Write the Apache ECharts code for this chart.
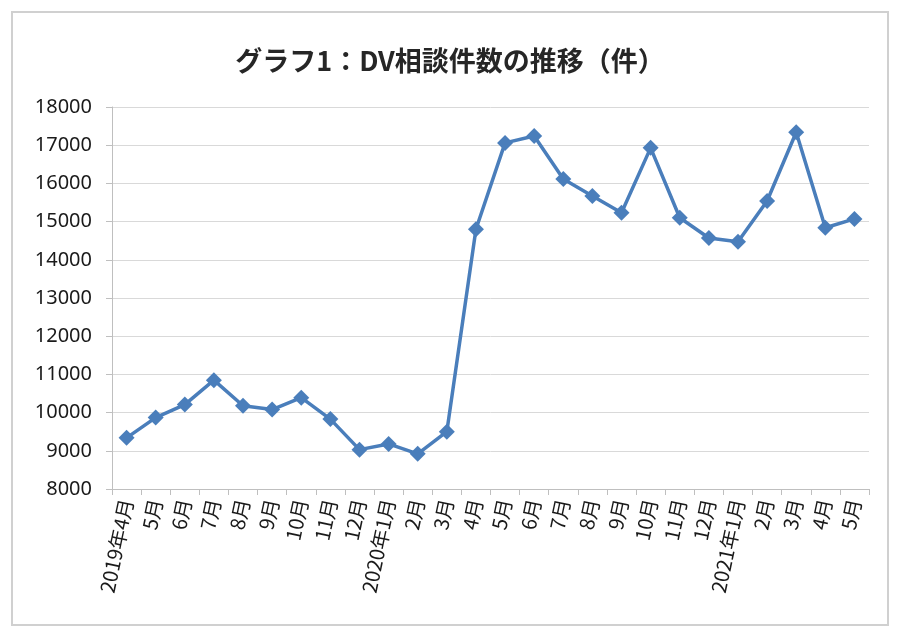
<!DOCTYPE html>
<html>
<head>
<meta charset="utf-8">
<script src="https://cdn.jsdelivr.net/npm/echarts@6/dist/echarts.min.js"></script>
<style>
html,body{margin:0;padding:0;background:#fff;}
#frame{position:absolute;left:11px;top:11px;width:878px;height:615px;border:2px solid #d0d0d0;box-sizing:border-box;}
#chart{position:absolute;left:0;top:0;width:900px;height:636px;}
</style>
</head>
<body>
<div id="frame"></div>
<div id="chart"></div>
<script>
const titleText = 'グラフ1：DV相談件数の推移（件）';
const categories = ['2019年4月','5月','6月','7月','8月','9月','10月','11月','12月',
  '2020年1月','2月','3月','4月','5月','6月','7月','8月','9月','10月','11月','12月',
  '2021年1月','2月','3月','4月','5月'];
const counts = [9340, 9870, 10210, 10850, 10180, 10080, 10390, 9830, 9030,
  9180, 8920, 9500, 14800, 17060, 17240, 16115, 15670, 15230, 16930, 15100, 14570,
  14470, 15540, 17340, 14840, 15070];
const yMin = 8000, yMax = 18000, yStep = 1000;

const chart = echarts.init(document.getElementById('chart'), null, {renderer:'canvas'});
chart.setOption({
  animation:false,
  backgroundColor:'transparent',
  title:{
    text:titleText, left:'center', top:42,
    textStyle:{fontFamily:'"Noto Sans CJK JP"', fontSize:27, fontWeight:'bold', color:'#262626'}
  },
  grid:{left:112, right:31, top:107, bottom:147, containLabel:false},
  xAxis:{
    type:'category', data:categories, boundaryGap:true,
    axisLine:{lineStyle:{color:'#bfbfbf', width:1}},
    axisTick:{show:true, alignWithLabel:false, length:6, lineStyle:{color:'#bfbfbf'}},
    axisLabel:{interval:0, rotate:78, margin:10, fontSize:20, color:'#1a1a1a',
      fontFamily:'"Noto Sans CJK JP"'}
  },
  yAxis:{
    type:'value', min:yMin, max:yMax, interval:yStep,
    axisLine:{show:true, lineStyle:{color:'#bfbfbf', width:1}},
    axisTick:{show:true, length:6, lineStyle:{color:'#bfbfbf'}},
    splitLine:{lineStyle:{color:'#d9d9d9', width:1}},
    axisLabel:{margin:20, fontSize:20, color:'#1a1a1a', fontFamily:'"Noto Sans", sans-serif',
      formatter:function(v){return String(v);}}
  },
  series:[{
    type:'line', data:counts,
    symbol:'diamond', symbolSize:16,
    lineStyle:{color:'#4a7ebb', width:3.5},
    itemStyle:{color:'#4a7ebb'}
  }]
});
</script>
</body>
</html>
